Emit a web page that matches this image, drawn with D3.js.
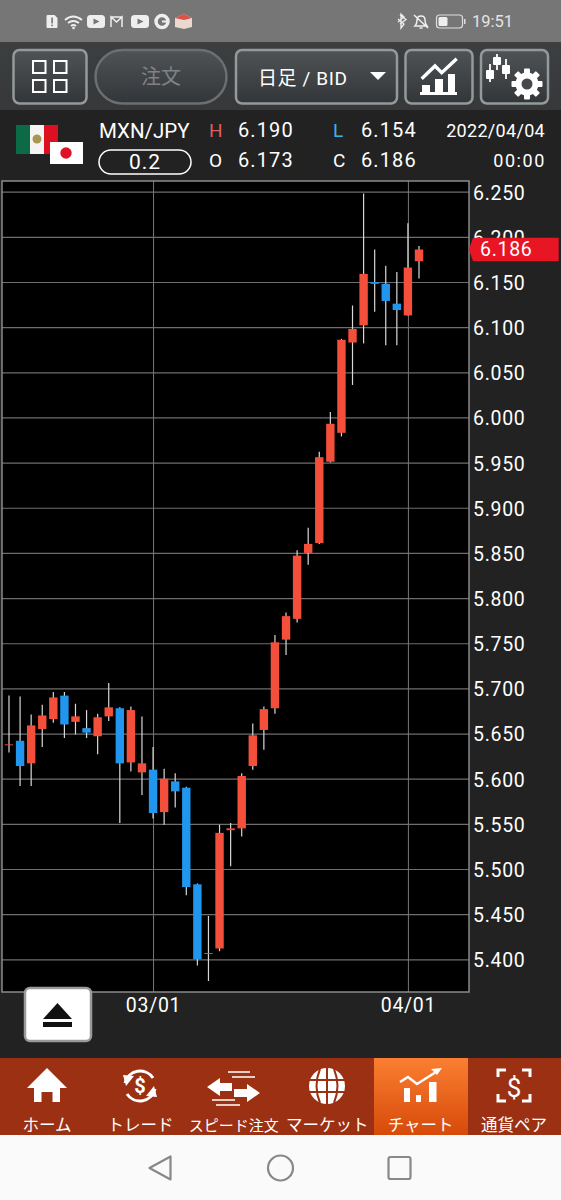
<!DOCTYPE html>
<html>
<head>
<meta charset="utf-8">
<script src="https://cdn.jsdelivr.net/npm/d3@7"></script>
<style>
  html, body { margin: 0; padding: 0; background: #222; }
  svg { display: block; }
  text { font-family: Roboto, "Noto Sans CJK JP", sans-serif; }
</style>
</head>
<body>
<div id="chart"></div>
<script>
const dates = ['02/10', '02/11', '02/14', '02/15', '02/16', '02/17', '02/18', '02/21', '02/22', '02/23',
  '02/24', '02/25', '02/28', '03/01', '03/02', '03/03', '03/04', '03/07', '03/08', '03/09',
  '03/10', '03/11', '03/14', '03/15', '03/16', '03/17', '03/18', '03/21', '03/22', '03/23',
  '03/24', '03/25', '03/28', '03/29', '03/30', '03/31', '04/01', '04/04']
const opens = [5.637, 5.642, 5.617, 5.655, 5.666, 5.692, 5.663, 5.656, 5.647, 5.669,
  5.678, 5.618, 5.607, 5.610, 5.563, 5.597, 5.590, 5.483, 5.407, 5.412,
  5.543, 5.545, 5.614, 5.654, 5.678, 5.754, 5.777, 5.850, 5.861, 5.951,
  5.983, 6.083, 6.102, 6.150, 6.148, 6.126, 6.113, 6.173]
const highs = [5.692, 5.691, 5.671, 5.682, 5.696, 5.696, 5.683, 5.676, 5.672, 5.706,
  5.679, 5.680, 5.669, 5.635, 5.611, 5.606, 5.591, 5.484, 5.448, 5.549,
  5.551, 5.606, 5.661, 5.680, 5.759, 5.784, 5.853, 5.878, 5.962, 6.006,
  6.087, 6.124, 6.248, 6.186, 6.168, 6.161, 6.215, 6.190]
const lows = [5.629, 5.592, 5.592, 5.635, 5.662, 5.645, 5.649, 5.645, 5.627, 5.664,
  5.551, 5.608, 5.582, 5.556, 5.549, 5.568, 5.471, 5.393, 5.376, 5.409,
  5.503, 5.536, 5.610, 5.632, 5.672, 5.737, 5.773, 5.837, 5.860, 5.950,
  5.979, 6.036, 6.082, 6.117, 6.080, 6.080, 6.113, 6.154]
const closes = [5.638, 5.614, 5.659, 5.670, 5.690, 5.660, 5.669, 5.651, 5.668, 5.679,
  5.617, 5.676, 5.617, 5.562, 5.600, 5.586, 5.480, 5.400, 5.406, 5.540,
  5.545, 5.603, 5.648, 5.677, 5.751, 5.780, 5.847, 5.860, 5.956, 5.993,
  6.086, 6.098, 6.159, 6.148, 6.129, 6.119, 6.166, 6.186]

const priceTicks = [5.4, 5.45, 5.5, 5.55, 5.6, 5.65, 5.7, 5.75, 5.8, 5.85, 5.9, 5.95,
  6, 6.05, 6.1, 6.15, 6.2, 6.25]
const dateTicks = ['03/01', '04/01']
const lastPrice = 6.186
const quote = { H: '6.190', L: '6.154', O: '6.173', C: '6.186' }
const navLabels = ['ホーム', 'トレード', 'スピード注文', 'マーケット', 'チャート', '通貨ペア']

const upColor = '#f44f3a'
const downColor = '#2196ee'

const svg = d3.select('#chart').append('svg').attr('width', 561).attr('height', 1200)
const defs = svg.append('defs')

function gradient(id, from, to) {
  const g = defs.append('linearGradient').attr('id', id).attr('x1', 0).attr('y1', 0).attr('x2', 0).attr('y2', 1)
  g.append('stop').attr('offset', 0).attr('stop-color', from)
  g.append('stop').attr('offset', 1).attr('stop-color', to)
}
gradient('btn', '#505356', '#333638')
gradient('bar', '#3c3e40', '#363839')
gradient('active', '#fb7f32', '#d64a0a')

function rect(p, x, y, w, h, fill, r) {
  return p.append('rect').attr('x', x).attr('y', y).attr('width', w).attr('height', h)
    .attr('rx', r || 0).attr('fill', fill)
}
function label(p, x, y, str, size, fill, anchor, spacing) {
  return p.append('text').attr('x', x).attr('y', y).attr('font-size', size)
    .attr('fill', fill).attr('text-anchor', anchor || 'start')
    .attr('letter-spacing', spacing || 0).text(str)
}
function path(p, d, fill, stroke, sw) {
  return p.append('path').attr('d', d).attr('fill', fill || 'none')
    .attr('stroke', stroke || 'none').attr('stroke-width', sw || 0)
}

// page bands
rect(svg, 0, 0, 561, 42, '#767676')
rect(svg, 0, 42, 561, 68, 'url(#bar)')
rect(svg, 0, 110, 561, 948, '#222')

// status bar
const status = svg.append('g')
path(status, 'M47.5 15h7l3 3v9a1 1 0 0 1-1 1h-9a1 1 0 0 1-1-1v-11a1 1 0 0 1 1-1z', '#eee')
rect(status, 51.3, 17.5, 1.6, 6, '#767676')
rect(status, 51.3, 24.6, 1.6, 1.6, '#767676')
path(status, 'M65 20q8-7 17 0M68 23q5-4 11 0M71 26q2.500-2 5 0', null, '#eee', 1.8)
status.append('circle').attr('cx', 73.500).attr('cy', 28).attr('r', 1.300).attr('fill', '#eee')
function tube(x) {
  rect(status, x, 15, 18, 13, '#eee', 3.500)
  path(status, `M${x + 6.500} 18.500l6 3-6 3z`, '#767676')
}
tube(87)
path(status, 'M111 27v-10l5.500 5 5.500-5v10M111 17l11 0', null, '#eee', 1.500)
tube(131)
status.append('circle').attr('cx', 162).attr('cy', 21.500).attr('r', 6).attr('fill', 'none').attr('stroke', '#eee').attr('stroke-width', 3.500)
rect(status, 162, 20.500, 6, 2, '#eee')
path(status, 'M175 18l9-4 8 4v9l-8 2-9-2z', '#e9d9cf')
path(status, 'M175 18l9-4 8 4-8 2z', '#d9534a')
path(status, 'M400 15l6 4.500-6 4.500M398 19l6 5-3 4v-14l3 3-6 5', null, '#eee', 1.300)
path(status, 'M415 26q2-2 2-6 0-4 4-4t4 4q0 4 2 6zM419.500 28h3M414 15l14 13', null, '#eee', 1.500)
rect(status, 436.500, 15, 26, 13, 'none', 3).attr('stroke', '#ddd').attr('stroke-width', 1.200)
rect(status, 438.500, 17, 9, 9, '#eee', 1.500)
rect(status, 464, 19, 1.500, 5, '#ddd')
label(status, 472, 27, '19:51', 16.500, '#e4e4e4')

// toolbar
const toolbar = svg.append('g')
function button(x, w, r, stroke) {
  rect(toolbar, x, 50, w, 53.500, 'url(#btn)', r).attr('stroke', stroke).attr('stroke-width', 2.500)
}
button(13.500, 73, 6, '#94999b')
button(95.500, 131, 27, '#6c6f71')
button(236, 161, 6, '#94999b')
button(405.500, 67, 6, '#94999b')
button(481, 67, 6, '#94999b')
;[[33, 61], [54, 61], [33, 80], [54, 80]].forEach(([x, y]) => {
  rect(toolbar, x, y, 12.500, 12, 'none').attr('stroke', '#fff').attr('stroke-width', 2)
})
label(toolbar, 161, 84, '注文', 20, '#808284', 'middle')
label(toolbar, 258, 84.500, '日足 / BID', 19, '#fff', 'start', 0.600)
path(toolbar, 'M370 72h16l-8 8z', '#fff')
path(toolbar, 'M421.700 78.700L435 66l6.700 6.700L456.700 58.700', null, '#fff', 3.400)
rect(toolbar, 420, 92, 37, 3, '#fff')
rect(toolbar, 422, 85, 8, 8, '#fff')
rect(toolbar, 435, 79, 8, 14, '#fff')
rect(toolbar, 448, 74, 7, 19, '#fff')
;[[490, 64, 70, 9, 82], [497, 54, 57, 8, 70], [506, 59, 65, 9, 79]].forEach(([x, y1, y2, h, y3]) => {
  rect(toolbar, x - 0.900, y1, 1.800, y3 - y1, '#fff')
  rect(toolbar, x - 4, y2, 8, h, '#fff', 1)
})
const gear = toolbar.append('g').attr('transform', 'translate(527,84)')
d3.range(4).forEach(i => {
  rect(gear, -3, -15.500, 6, 31, '#fff', 1).attr('transform', `rotate(${i * 45})`)
})
gear.append('circle').attr('r', 11.500).attr('fill', '#fff')
gear.append('circle').attr('r', 5.500).attr('fill', '#46484a')

// quote row
const info = svg.append('g')
rect(info, 16, 125, 14, 29, '#0c6a46')
rect(info, 30, 125, 14, 29, '#f4f4f4')
rect(info, 44, 125, 14, 29, '#dd1020')
info.append('circle').attr('cx', 37).attr('cy', 139).attr('r', 4.500).attr('fill', '#a8984f')
rect(info, 50, 142, 33, 22, '#fff')
info.append('circle').attr('cx', 66).attr('cy', 153).attr('r', 5.700).attr('fill', '#e0102a')
label(info, 99, 138, 'MXN/JPY', 20.500, '#fff')
rect(info, 99, 150, 92, 24, '#222', 12).attr('stroke', '#fff').attr('stroke-width', 1.500)
label(info, 145, 169, '0.2', 21, '#fff', 'middle', 1)
label(info, 209, 137, 'H', 19, '#dc5f5c')
label(info, 238, 137, quote.H, 20, '#fff', 'start', 1.100)
label(info, 333, 137, 'L', 19, '#3fb3e6')
label(info, 361, 137, quote.L, 20, '#fff', 'start', 1.100)
label(info, 209, 167, 'O', 19, '#fff')
label(info, 238, 167, quote.O, 20, '#fff', 'start', 1.100)
label(info, 333, 167, 'C', 19, '#fff')
label(info, 361, 167, quote.C, 20, '#fff', 'start', 1.100)
label(info, 545, 137, '2022/04/04', 18, '#fff', 'end', 0.300)
label(info, 546, 167, '00:00', 18, '#fff', 'end', 1.600)

// chart
const plot = { left: 2, right: 469, top: 181, bottom: 992 }
const x = d3.scalePoint().domain(dates).range([9, 419])
const y = d3.scaleLinear().domain([5.4, 6.25]).range([959.3, 191.7])
const bodyWidth = 8.400

rect(svg, plot.left, plot.top, plot.right - plot.left, plot.bottom - plot.top, '#000')

const yAxis = svg.append('g')
  .attr('transform', `translate(${plot.right},0)`)
  .call(d3.axisRight(y).tickValues(priceTicks).tickFormat(d3.format('.3f'))
    .tickSize(0).tickPadding(4))
yAxis.select('.domain').remove()
yAxis.selectAll('.tick').append('line')
  .attr('x1', 0).attr('x2', plot.left - plot.right)
  .attr('stroke', '#6e6e6e').attr('stroke-width', 1.200)
yAxis.selectAll('text').attr('font-size', 19.500).attr('fill', '#fff')
  .attr('dy', '0.38em').attr('letter-spacing', 0.700)
  .style('font-family', 'Roboto, sans-serif')

const xAxis = svg.append('g')
  .attr('transform', `translate(0,${plot.bottom})`)
  .call(d3.axisBottom(x).tickValues(dateTicks).tickSize(0).tickPadding(6))
xAxis.select('.domain').remove()
xAxis.selectAll('.tick').append('line')
  .attr('y1', 0).attr('y2', plot.top - plot.bottom)
  .attr('stroke', '#777').attr('stroke-width', 1)
xAxis.selectAll('text').attr('font-size', 19.500).attr('fill', '#fff')
  .attr('letter-spacing', 0.700)
  .style('font-family', 'Roboto, sans-serif')

svg.append('rect')
  .attr('x', plot.left).attr('y', plot.top)
  .attr('width', plot.right - plot.left).attr('height', plot.bottom - plot.top)
  .attr('fill', 'none').attr('stroke', '#8a8a8a').attr('stroke-width', 1.500)

const candles = svg.append('g').selectAll('g')
  .data(dates)
  .enter()
  .append('g')

candles.append('line')
  .attr('x1', d => x(d)).attr('x2', d => x(d))
  .attr('y1', (d, i) => y(highs[i]))
  .attr('y2', (d, i) => y(lows[i]))
  .attr('stroke', '#d8d8d8').attr('stroke-width', 1.200)

candles.append('rect')
  .attr('x', d => x(d) - bodyWidth / 2)
  .attr('width', bodyWidth)
  .attr('y', (d, i) => y(Math.max(opens[i], closes[i])))
  .attr('height', (d, i) => Math.abs(y(opens[i]) - y(closes[i])))
  .attr('fill', (d, i) => closes[i] >= opens[i] ? upColor : downColor)

// last price tag
const tagY = y(lastPrice)
path(svg, `M469 ${tagY}L473 ${tagY - 11.700}H558.700V${tagY + 11.700}H473z`, '#e81525')
label(svg, 480, tagY + 6.700, lastPrice.toFixed(3), 19.500, '#fff', 'start', 0.700)

// eject button
rect(svg, 25, 988, 66, 53, '#fff', 5).attr('stroke', '#9a9a9a').attr('stroke-width', 2.500)
path(svg, 'M43 1019l14.500-16 14.500 16z', '#111')
rect(svg, 43, 1022, 29, 5, '#111')

// bottom navigation
const nav = svg.append('g')
const navX = d3.scalePoint().domain(navLabels).range([47, 514])
rect(nav, 0, 1058, 561, 77, '#9c3012')
rect(nav, 374, 1058, 94, 77, 'url(#active)')
navLabels.forEach(d => {
  label(nav, navX(d), 1130.500, d, d.length > 5 ? 15 : 16.500, '#fff', 'middle')
})
// home
path(nav, 'M27 1088L47 1068l20 20h-7v14h-7.500v-10h-11v10H34v-14z', '#fff')
// trade
const trade = nav.append('g').attr('transform', 'translate(140,1086)')
path(trade, 'M-15-3A15.500 15.500 0 0 1 13-8M15 3A15.500 15.500 0 0 1-13 8', null, '#fff', 3)
path(trade, 'M-17-11l11 1-8 10zM17 11l-11-1 8-10z', '#fff')
trade.append('text').attr('y', 7).attr('text-anchor', 'middle').attr('font-size', 20)
  .attr('font-weight', 'bold').attr('fill', '#fff').text('$')
// speed order
path(nav, 'M207 1087l13-9v5h12v8h-12v5zM260 1093l-13-9v5h-13v8h13v5z', '#fff')
path(nav, 'M228 1072h22M232 1077h23M212 1100h23M216 1105h24', null, '#fff', 1.500)
// market
const globe = nav.append('g').attr('transform', 'translate(327,1086)')
globe.append('circle').attr('r', 18).attr('fill', '#fff')
path(globe, 'M-18-6H18M-18 6H18', null, '#9c3012', 2)
path(globe, 'M0-18V18M-7-17Q-14 0-7 17M7-17Q14 0 7 17', null, '#9c3012', 2)
// chart
path(nav, 'M400 1082l8-5 9 7 19-12', null, '#fff', 2.500)
path(nav, 'M442 1068l-11 1 6 6z', '#fff')
rect(nav, 404, 1088, 6, 14, '#fff')
rect(nav, 416, 1095, 5, 7, '#fff')
rect(nav, 429, 1082, 7.500, 20, '#fff')
// currency pair
path(nav, 'M498 1077v-7h8M530 1077v-7h-8M498 1094v7h8M530 1094v7h-8', null, '#fff', 3)
label(nav, 514, 1097, '$', 26, '#fff', 'middle')

// android nav
rect(svg, 0, 1135, 561, 65, '#fafafa')
path(svg, 'M170.500 1156.500v23l-21-11.500z', 'none', '#888', 2.200).attr('stroke-linejoin', 'round')
svg.append('circle').attr('cx', 280.500).attr('cy', 1168).attr('r', 12.500)
  .attr('fill', 'none').attr('stroke', '#888').attr('stroke-width', 2.200)
rect(svg, 388.500, 1157, 22, 22, 'none', 2).attr('stroke', '#888').attr('stroke-width', 2.200)
</script>
</body>
</html>
